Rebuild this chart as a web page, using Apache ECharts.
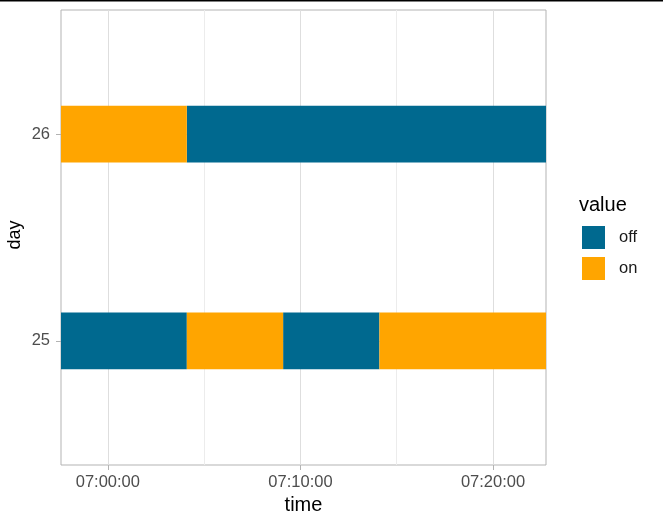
<!DOCTYPE html>
<html>
<head>
<meta charset="utf-8">
<script src="https://cdn.jsdelivr.net/npm/echarts@6/dist/echarts.min.js"></script>
<style>
  html, body { margin: 0; padding: 0; background: #fff; }
  #chart { width: 663px; height: 526px; }
</style>
</head>
<body>
<div id="chart"></div>
<script>
// segments: day, start, end, state
const segDay   = [26, 26, 25, 25, 25, 25];
const segStart = ['06:57:34', '07:04:06', '06:57:34', '07:04:06', '07:09:06', '07:14:06'];
const segEnd   = ['07:04:06', '07:22:45', '07:04:06', '07:09:06', '07:14:06', '07:22:45'];
const segState = ['on', 'off', 'off', 'on', 'off', 'on'];

const states = ['off', 'on'];
const stateColors = ['#00698F', '#FFA500'];
const dayTicks = [25, 26];
const timeLabels = ['07:00:00', '07:10:00', '07:20:00'];
const timeMinor = ['07:05:00', '07:15:00'];
const timeRange = ['06:57:34', '07:22:45'];
const dayRange = [24.4, 26.6];
const BAR_H = 0.275;

function toSec(t) {
  const p = t.split(':').map(Number);
  return p[0] * 3600 + p[1] * 60 + p[2];
}
function fmt(s) {
  const h = Math.floor(s / 3600), m = Math.floor((s % 3600) / 60), sec = Math.round(s % 60);
  return [h, m, sec].map(v => String(v).padStart(2, '0')).join(':');
}

const FONT = 'Liberation Sans, Arial, sans-serif';
const majorSec = timeLabels.map(toSec);
const allSec = majorSec.concat(timeMinor.map(toSec)).sort((a, b) => a - b);

const chart = echarts.init(document.getElementById('chart'), null, { renderer: 'canvas' });

function renderSeg(params, api) {
  const a = api.coord([api.value(0), api.value(2)]);
  const b = api.coord([api.value(1), api.value(2)]);
  const h = api.size([0, BAR_H])[1];
  return {
    type: 'rect',
    shape: { x: a[0], y: a[1] - h / 2, width: b[0] - a[0], height: h },
    style: api.style()
  };
}

const series = states.map((st, k) => ({
  name: st,
  type: 'custom',
  renderItem: renderSeg,
  itemStyle: { color: stateColors[k] },
  encode: { x: [0, 1], y: 2 },
  z: 5,
  data: segDay.map((d, i) => segState[i] === st ? [toSec(segStart[i]), toSec(segEnd[i]), d] : null)
    .filter(v => v)
}));

chart.setOption({
  animation: false,
  textStyle: { fontFamily: FONT },
  graphic: [{
    type: 'rect', left: 0, top: 0, shape: { width: 663, height: 1.5 },
    style: { fill: '#000' }
  }],
  title: {
    text: 'value', left: 579, top: 195, padding: 0,
    textStyle: { fontFamily: FONT, fontSize: 20, fontWeight: 'normal', color: '#000' }
  },
  legend: {
    data: states, orient: 'vertical', left: 582, top: 226, padding: 0,
    itemWidth: 23, itemHeight: 23, itemGap: 8, icon: 'rect',
    textStyle: { fontFamily: FONT, fontSize: 16.5, color: '#1a1a1a', padding: [0, 0, 0, 9] }
  },
  grid: {
    left: 61, right: 117, top: 10, bottom: 61, outerBoundsMode: 'none',
    show: true, borderColor: '#b3b3b3', borderWidth: 1, backgroundColor: 'transparent'
  },
  xAxis: [{
    type: 'value', min: toSec(timeRange[0]), max: toSec(timeRange[1]),
    name: 'time', nameLocation: 'middle', nameGap: 30, nameMoveOverlap: false,
    nameTextStyle: { fontFamily: FONT, fontSize: 20, color: '#000' },
    axisLine: { show: false },
    axisTick: { show: false, customValues: allSec },
    axisLabel: { customValues: majorSec, formatter: fmt, margin: 9,
      fontFamily: FONT, fontSize: 16.5, color: '#4d4d4d' },
    splitLine: { show: true, lineStyle: { color: '#ececec', width: 1 } }
  }, {
    type: 'value', position: 'bottom', offset: 0,
    min: toSec(timeRange[0]), max: toSec(timeRange[1]),
    axisLine: { show: false },
    axisTick: { show: true, customValues: majorSec, length: 5, lineStyle: { color: '#b3b3b3' } },
    axisLabel: { show: false },
    splitLine: { show: true, lineStyle: { color: '#dedede', width: 1 } }
  }],
  yAxis: {
    type: 'value', min: dayRange[0], max: dayRange[1],
    name: 'day', nameLocation: 'middle', nameGap: 37, nameRotate: 90, nameMoveOverlap: false,
    nameTextStyle: { fontFamily: FONT, fontSize: 18, color: '#000', padding: [0, 0, 0, 5] },
    axisLine: { show: false },
    axisTick: { show: true, customValues: dayTicks, length: 5, lineStyle: { color: '#b3b3b3' } },
    axisLabel: { customValues: dayTicks, margin: 11, fontFamily: FONT, fontSize: 16.5, color: '#4d4d4d' },
    splitLine: { show: true, lineStyle: { color: '#dedede' } }
  },
  series: series
});
</script>
</body>
</html>
